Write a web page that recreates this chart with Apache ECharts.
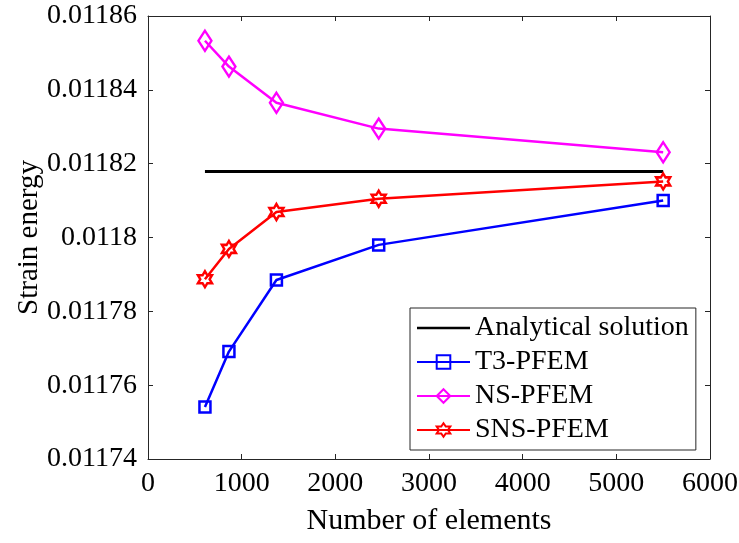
<!DOCTYPE html>
<html>
<head>
<meta charset="utf-8">
<script src="https://cdn.jsdelivr.net/npm/echarts@6/dist/echarts.min.js"></script>
<style>
  html, body { margin: 0; padding: 0; background: #fff; }
  #chart { width: 739px; height: 543px; }
</style>
</head>
<body>
<div id="chart"></div>
<script>
// Mesh sizes (number of elements) and computed strain energies
const elements = [608, 864, 1371, 2463, 5500];
const t3Energy = [0.0117541, 0.0117691, 0.0117885, 0.0117980, 0.0118100];
const nsEnergy = [0.0118533, 0.0118463, 0.0118365, 0.0118295, 0.0118231];
const snsEnergy = [0.0117887, 0.0117969, 0.0118069, 0.0118105, 0.0118152];
const analyticalEnergy = 0.0118179;

const seriesNames = ['Analytical solution', 'T3-PFEM', 'NS-PFEM', 'SNS-PFEM'];

const xMin = 0, xMax = 6000, xStep = 1000;
const yMin = 0.01174, yMax = 0.01186, yStep = 0.00002;

const FONT = '"Liberation Serif", "Times New Roman", serif';
const AXIS_COLOR = '#262626';

// six-pointed star outline used as the SNS-PFEM marker
function hexagramPath() {
  const R = 10, r = R / Math.sqrt(3);
  const pts = [];
  for (let k = 0; k < 12; k++) {
    const ang = (-90 + k * 30) * Math.PI / 180;
    const rad = k % 2 === 0 ? R : r;
    pts.push((rad * Math.cos(ang)).toFixed(3) + ',' + (rad * Math.sin(ang)).toFixed(3));
  }
  return 'path://M' + pts.join('L') + 'Z';
}
// tall diamond (2:3) for NS-PFEM
const DIAMOND = 'path://M0,-15L10,0L0,15L-10,0Z';

function pairs(ys) {
  return elements.map((x, i) => [x, ys[i]]);
}

const yTickLabel = v => parseFloat(v.toFixed(5)).toString();
const xTickLabel = v => String(Math.round(v));

const baseX = {
  type: 'value', min: xMin, max: xMax, interval: xStep,
  axisLine: { show: true, onZero: false, lineStyle: { color: AXIS_COLOR, width: 1 } },
  axisTick: { show: true, inside: true, length: 5, lineStyle: { color: AXIS_COLOR, width: 1 } },
  splitLine: { show: false }
};
const baseY = {
  type: 'value', min: yMin, max: yMax, interval: yStep,
  axisLine: { show: true, onZero: false, lineStyle: { color: AXIS_COLOR, width: 1 } },
  axisTick: { show: true, inside: true, length: 5, lineStyle: { color: AXIS_COLOR, width: 1 } },
  splitLine: { show: false }
};

const chart = echarts.init(document.getElementById('chart'), null, { renderer: 'canvas' });

chart.setOption({
  animation: false,
  backgroundColor: '#ffffff',
  grid: { left: 148, right: 29, top: 16, bottom: 84, containLabel: false, outerBoundsMode: 'none' },
  xAxis: [
    Object.assign({}, baseX, {
      position: 'bottom',
      axisLabel: { fontFamily: FONT, fontSize: 28, color: '#000', margin: 11, formatter: xTickLabel },
      name: 'Number of elements',
      nameLocation: 'middle',
      nameGap: 47,
      nameMoveOverlap: false,
      nameTextStyle: { fontFamily: FONT, fontSize: 30, color: '#000' }
    }),
    Object.assign({}, baseX, { position: 'top', axisLabel: { show: false } })
  ],
  yAxis: [
    Object.assign({}, baseY, {
      position: 'left',
      axisLabel: { fontFamily: FONT, fontSize: 28, color: '#000', margin: 11, formatter: yTickLabel },
      name: 'Strain energy',
      nameLocation: 'middle',
      nameGap: 104,
      nameMoveOverlap: false,
      nameTextStyle: { fontFamily: FONT, fontSize: 29, color: '#000' }
    }),
    Object.assign({}, baseY, { position: 'right', axisLabel: { show: false } })
  ],
  legend: {
    orient: 'vertical',
    left: 410, top: 308,
    padding: [6, 7, 6, 6],
    itemGap: 6,
    itemWidth: 53,
    itemHeight: 17,
    symbolKeepAspect: true,
    backgroundColor: '#ffffff',
    borderColor: AXIS_COLOR,
    borderWidth: 1,
    borderRadius: 0,
    textStyle: { fontFamily: FONT, fontSize: 28, color: '#000', lineHeight: 28 },
    data: [
      { name: seriesNames[0], icon: 'path://M0,0H53V2.5H0Z', itemStyle: { color: '#000000' } },
      seriesNames[1], seriesNames[2], seriesNames[3]
    ]
  },
  series: [
    {
      name: seriesNames[0], type: 'line',
      data: [[elements[0], analyticalEnergy], [elements[elements.length - 1], analyticalEnergy]],
      showSymbol: false, symbol: 'none',
      lineStyle: { color: '#000000', width: 3 },
      itemStyle: { color: '#000000' },
      z: 2
    },
    {
      name: seriesNames[1], type: 'line', data: pairs(t3Energy),
      symbol: 'rect', symbolSize: 11,
      lineStyle: { color: '#0000ff', width: 2.5 },
      itemStyle: { color: 'rgba(0,0,0,0)', borderColor: '#0000ff', borderWidth: 2.5 },
      z: 3
    },
    {
      name: seriesNames[2], type: 'line', data: pairs(nsEnergy),
      symbol: DIAMOND, symbolSize: [13, 20],
      lineStyle: { color: '#ff00ff', width: 2.5 },
      itemStyle: { color: 'rgba(0,0,0,0)', borderColor: '#ff00ff', borderWidth: 2.5 },
      z: 4
    },
    {
      name: seriesNames[3], type: 'line', data: pairs(snsEnergy),
      symbol: hexagramPath(), symbolSize: [14, 16],
      lineStyle: { color: '#ff0000', width: 2.5 },
      itemStyle: { color: 'rgba(0,0,0,0)', borderColor: '#ff0000', borderWidth: 2.5 },
      z: 5
    }
  ]
});
</script>
</body>
</html>
